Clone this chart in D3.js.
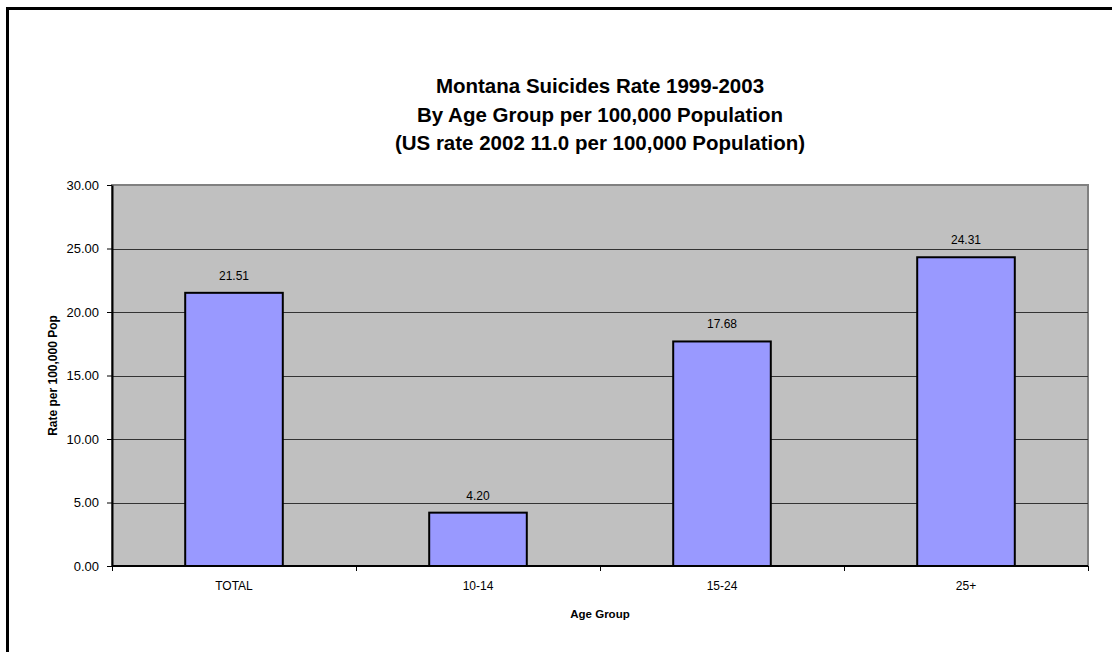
<!DOCTYPE html>
<html>
<head>
<meta charset="utf-8">
<script src="https://cdn.jsdelivr.net/npm/d3@7"></script>
<style>
  body { margin: 0; background: #fff; }
  svg { display: block; }
</style>
</head>
<body>
<svg class="chart"></svg>
<script>
// age groups and rates
let groups = ["TOTAL", "10-14", "15-24", "25+"];
let rates = [21.51, 4.20, 17.68, 24.31];
let y_ticks = [0, 5, 10, 15, 20, 25, 30];
let title_lines = ["Montana Suicides Rate 1999-2003",
                   "By Age Group per 100,000 Population",
                   "(US rate 2002 11.0 per 100,000 Population)"];

let w = 1112;
let h = 652;
let font = "'Liberation Sans', Arial, sans-serif";

let svg = d3.select("svg.chart")
    .attr("width", w)
    .attr("height", h)
    .style("font-family", font);

// outer chart border, only top and left fall inside the picture
svg.append("rect")
    .attr("x", 7.5)
    .attr("y", 8.5)
    .attr("width", w + 20)
    .attr("height", h + 20)
    .attr("fill", "none")
    .attr("stroke", "black")
    .attr("stroke-width", 3);

let left = 112;
let right = 1088;
let top_space = 185;
let bottom = 566;

let x = d3.scaleBand()
    .domain(groups)
    .range([left, right]);

let y = d3.scaleLinear()
    .domain([0, 30])
    .range([bottom, top_space]);

// plot area
svg.append("rect")
    .attr("x", left)
    .attr("y", top_space)
    .attr("width", right - left)
    .attr("height", bottom - top_space)
    .attr("fill", "#c0c0c0")
    .attr("stroke", "#808080")
    .attr("stroke-width", 2);

// gridlines
svg.append("g")
    .selectAll("line")
    .data(y_ticks.filter(d => d > 0 && d < 30))
    .enter()
    .append("line")
    .attr("x1", left)
    .attr("x2", right)
    .attr("y1", d => Math.round(y(d)) + 0.5)
    .attr("y2", d => Math.round(y(d)) + 0.5)
    .attr("stroke", "#333")
    .attr("stroke-width", 1);

// bars
let bar_w = x.bandwidth() * 0.4;
let bars = svg.append("g").attr("class", "bars");

bars.selectAll("rect")
    .data(groups)
    .enter()
    .append("rect")
    .attr("x", (d, i) => x(d) + (x.bandwidth() - bar_w) / 2)
    .attr("y", (d, i) => y(rates[i]))
    .attr("width", bar_w)
    .attr("height", (d, i) => bottom - y(rates[i]))
    .attr("fill", "#9999ff")
    .attr("stroke", "black")
    .attr("stroke-width", 2);

bars.selectAll("text")
    .data(groups)
    .enter()
    .append("text")
    .attr("x", d => x(d) + x.bandwidth() / 2)
    .attr("y", (d, i) => y(rates[i]) - 13)
    .attr("text-anchor", "middle")
    .attr("font-size", "12px")
    .text((d, i) => d3.format(".2f")(rates[i]));

// y axis
svg.append("g")
    .attr("transform", "translate(" + left + ",0)")
    .call(d3.axisLeft(y).tickValues(y_ticks).tickFormat(d3.format(".2f"))
          .tickSizeInner(5).tickSizeOuter(0).tickPadding(8))
    .call(g => g.select(".domain").attr("stroke", "black").attr("stroke-width", 2))
    .call(g => g.selectAll("text").attr("font-size", "13px").attr("fill", "black")
              .style("font-family", font));

// x axis, ticks between categories
let xg = svg.append("g")
    .attr("transform", "translate(0," + bottom + ")");

xg.append("line")
    .attr("x1", left)
    .attr("x2", right)
    .attr("stroke", "black")
    .attr("stroke-width", 2);

xg.selectAll("line.tick")
    .data(groups.concat(["end"]))
    .enter()
    .append("line")
    .attr("class", "tick")
    .attr("x1", (d, i) => Math.round(left + i * x.step()) + 0.5)
    .attr("x2", (d, i) => Math.round(left + i * x.step()) + 0.5)
    .attr("y1", 0)
    .attr("y2", 5)
    .attr("stroke", "black");

xg.selectAll("text")
    .data(groups)
    .enter()
    .append("text")
    .attr("x", d => x(d) + x.bandwidth() / 2)
    .attr("y", 24)
    .attr("text-anchor", "middle")
    .attr("font-size", "12px")
    .text(d => d);

// axis titles
svg.append("text")
    .attr("x", (left + right) / 2)
    .attr("y", 618)
    .attr("text-anchor", "middle")
    .attr("font-size", "11.5px")
    .attr("font-weight", "bold")
    .text("Age Group");

svg.append("text")
    .attr("transform", "translate(57," + ((top_space + bottom) / 2) + ") rotate(-90)")
    .attr("text-anchor", "middle")
    .attr("font-size", "12px")
    .attr("font-weight", "bold")
    .text("Rate per 100,000 Pop");

// title
svg.append("g")
    .selectAll("text")
    .data(title_lines)
    .enter()
    .append("text")
    .attr("x", 600)
    .attr("y", (d, i) => 93 + i * 28.5)
    .attr("text-anchor", "middle")
    .attr("font-size", "20.5px")
    .attr("font-weight", "bold")
    .text(d => d);
</script>
</body>
</html>
